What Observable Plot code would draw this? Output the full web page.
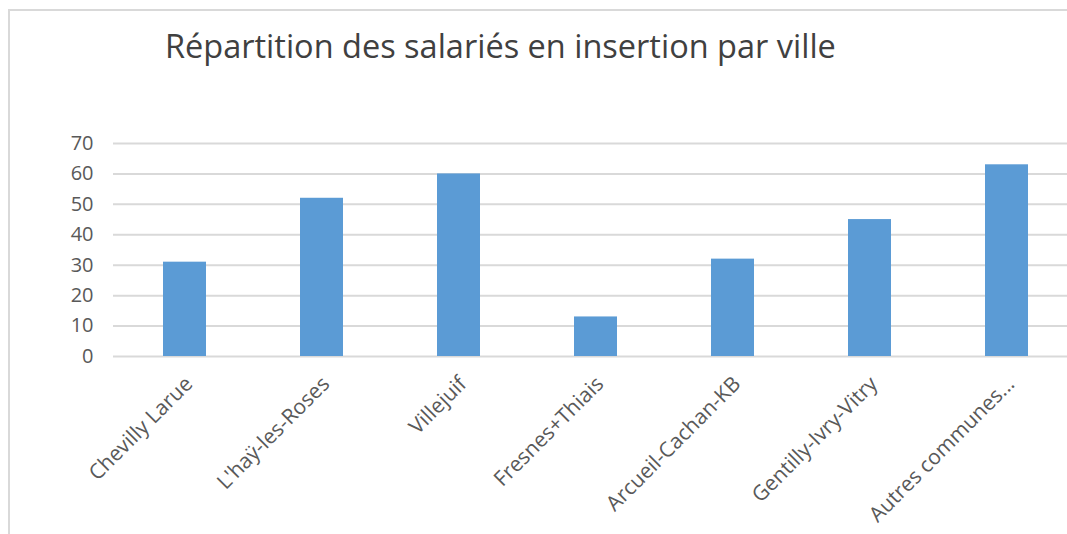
<!DOCTYPE html>
<html>
<head>
<meta charset="utf-8">
<script src="https://cdn.jsdelivr.net/npm/d3@7"></script>
<script src="https://cdn.jsdelivr.net/npm/@observablehq/plot@0.6"></script>
<style>
  html, body { margin: 0; padding: 0; background: #fff; width: 1067px; height: 534px; overflow: hidden; }
  #frame { position: absolute; left: 8px; top: 9px; width: 1070px; height: 540px;
           border-top: 2px solid #d9d9d9; border-left: 2px solid #d9d9d9; box-sizing: border-box; }
  #title { position: absolute; left: 165px; top: 30px; font-family: "Open Sans", sans-serif;
           font-size: 32.5px; line-height: 1; color: #404040; white-space: nowrap; }
  #chart { position: absolute; left: 0; top: 110px; }
</style>
</head>
<body>
<div id="frame"></div>
<div id="title">Répartition des salariés en insertion par ville</div>
<div id="chart"></div>
<script>
const villes = ["Chevilly Larue", "L'haÿ-les-Roses", "Villejuif", "Fresnes+Thiais", "Arcueil-Cachan-KB", "Gentilly-Ivry-Vitry", "Autres communes..."];
const salaries = [31, 52, 60, 13, 32, 45, 63];
const yTicks = [0, 10, 20, 30, 40, 50, 60, 70];

const data = villes.map((v, i) => ({ville: v, n: salaries[i]}));

const chart = Plot.plot({
  width: 1067,
  height: 424,
  marginTop: 33,
  marginBottom: 178,
  marginLeft: 113,
  marginRight: 0,
  style: { fontFamily: "Open Sans, sans-serif", color: "#595959", background: "transparent", overflow: "visible" },
  x: { domain: villes, range: [113, 1078], paddingInner: 0.686, paddingOuter: 0.343, label: null },
  y: { domain: [0, 70], label: null },
  marks: [
    Plot.ruleY(yTicks, { stroke: "#d9d9d9", strokeWidth: 2 }),
    Plot.barY(data, { x: "ville", y: "n", fill: "#5B9BD5" }),
    Plot.axisY(yTicks, { tickSize: 0, tickPadding: 20, fontSize: 20, label: null, fill: "#595959" }),
    Plot.axisX({ tickSize: 0, tickRotate: -45, fontSize: 21, tickPadding: 24, dx: 4, label: null, fill: "#595959" })
  ]
});
document.getElementById("chart").appendChild(chart);
</script>
</body>
</html>
